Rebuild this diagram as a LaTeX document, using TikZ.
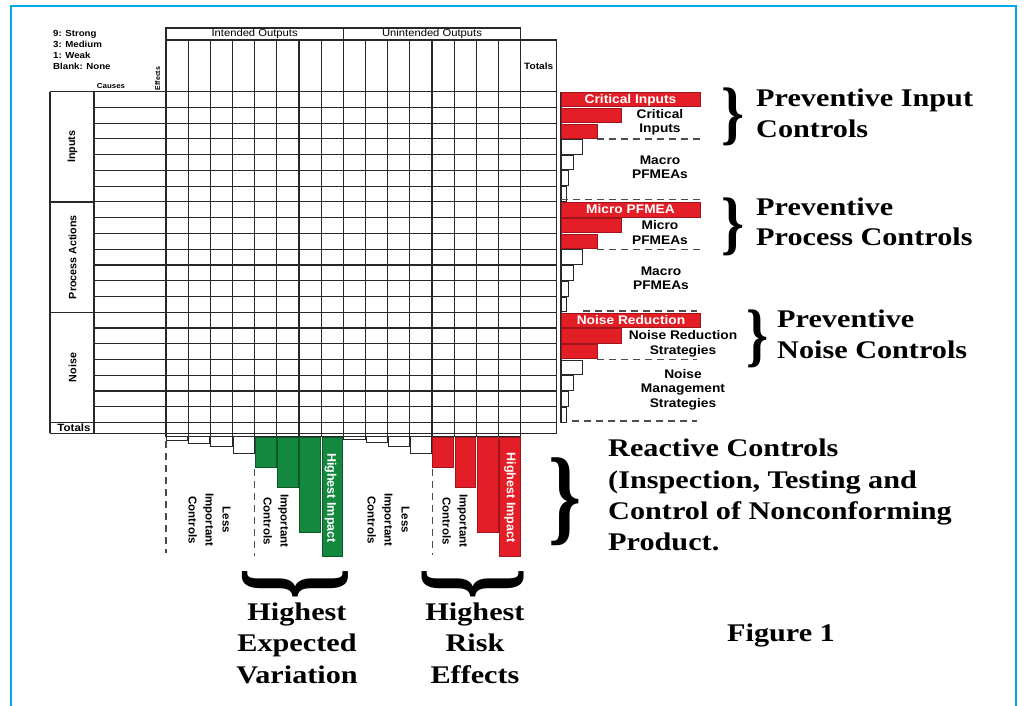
\documentclass[tikz,border=0pt]{standalone}
\usepackage{fontspec}
\usepackage{graphicx}
\setmainfont{Liberation Serif}
\newfontfamily\bigserif{Liberation Serif}[FakeStretch=1.19]
\newfontfamily\bracefont{Liberation Serif}
\newfontfamily\lsans{Liberation Sans}[FakeStretch=1.1]
\newfontfamily\lsansr{Liberation Sans}
\definecolor{framecyan}{RGB}{0,172,228}
\definecolor{barred}{RGB}{228,30,38}
\definecolor{bargreen}{RGB}{20,136,62}
\definecolor{gridcol}{RGB}{40,40,40}
\begin{document}
\begin{tikzpicture}[x=1pt,y=-1pt,
  gridline/.style={draw=gridcol, line width=1.1pt},
  outerline/.style={draw=gridcol, line width=1.3pt},
  redbar/.style={fill=barred, draw=barred!70!black, line width=0.7pt},
  greenbar/.style={fill=bargreen, draw=bargreen!65!black, line width=0.7pt},
  whitebar/.style={fill=white, draw=gridcol, line width=0.9pt},
  dashln/.style={draw=black!70, line width=1.1pt, dash pattern=on 7pt off 5pt},
  legendtxt/.style={font=\lsans\bfseries\fontsize{8.8}{11}\selectfont, inner sep=0, anchor=base west},
  headtxt/.style={font=\lsans\fontsize{10.2}{12}\selectfont, inner sep=0},
  tinytxt/.style={font=\lsans\bfseries\fontsize{7.2}{9}\selectfont, inner sep=0},
  cattxt/.style={font=\lsansr\bfseries\fontsize{10.7}{13}\selectfont, inner sep=0, rotate=90},
  bartxt/.style={font=\lsans\bfseries\fontsize{12.5}{14.5}\selectfont, inner sep=0, align=center},
  whitetxt/.style={bartxt, text=white, anchor=base},
  vtxt/.style={font=\lsansr\bfseries\fontsize{11.5}{17}\selectfont, inner sep=0, align=center, rotate=-90},
  bigtxt/.style={font=\bigserif\bfseries\fontsize{25.4}{31}\selectfont, inner sep=0},
  bracenode/.style={inner sep=0, font=\bracefont\bfseries}
]
\useasboundingbox (0,0) rectangle (1026,706);
% frame
\draw[framecyan, line width=2.6pt] (11,720) -- (11,6) -- (1016,6) -- (1016,720);

% legend
\node[legendtxt] (lg9) at (53,36.7) {9: Strong};
\node[legendtxt] (lg3) at (53,47.5) {3: Medium};
\node[legendtxt] (lg1) at (53,58.4) {1: Weak};
\node[legendtxt] (lgb) at (53,69.3) {Blank: None};

% header
\draw[gridline] (166,28) rectangle (520.7,40);
\draw[gridline] (343.3,28) -- (343.3,40);
\draw[gridline] (520.7,40) rectangle (556.7,91.7);
\node[headtxt] (io) at (254.6,34.3) {Intended Outputs};
\node[headtxt] (uo) at (432,34.3) {Unintended Outputs};
\node[tinytxt, font=\lsans\bfseries\fontsize{9.2}{11}\selectfont] (toth) at (538.7,66.5) {Totals};
\node[tinytxt] (causes) at (111,86) {Causes};
\node[tinytxt, font=\lsansr\bfseries\fontsize{7}{9}\selectfont, rotate=90] (effects) at (157.5,78.5) {Effects};

% grid columns
\foreach \i in {0,...,16}
  \draw[gridline] ({166+\i*22.17},40) -- ({166+\i*22.17},436.7);
% grid rows
\foreach \j in {0,...,21}
  \draw[gridline] (94,{91.7+\j*15.75}) -- (556.7,{91.7+\j*15.75});
\foreach \j in {0,7,14,21}
  \draw[outerline] (50,{91.7+\j*15.75}) -- (94,{91.7+\j*15.75});
\draw[outerline] (50,433.3) -- (556.7,433.3);
\draw[outerline] (50,91.7) -- (50,433.3);
\draw[gridline] (94,91.7) -- (94,433.3);
\draw[gridline] (556.7,40) -- (556.7,433.3);
\draw[gridline] (520.7,91.7) -- (520.7,433.3);

% category labels
\node[cattxt] (inp) at (72.5,146.9) {Inputs};
\node[cattxt] (pa) at (72.5,257.2) {Process Actions};
\node[cattxt] (noi) at (72.5,367.5) {Noise};
\node[tinytxt, font=\lsans\bfseries\fontsize{10.5}{12}\selectfont] (totb) at (74,428.2) {Totals};

% right bars
\draw[gridline] (561,91.7) -- (561,422.5);
\foreach \s in {0,7,14}{
  \foreach \k/\e in {0/700,1/621,2/597}
    \draw[redbar] (561,{91.7+(\s+\k)*15.75+0.7}) rectangle (\e,{91.7+(\s+\k+1)*15.75-0.7});
  \foreach \k/\e in {3/582,4/573,5/568,6/566}
    \draw[whitebar] (561,{91.7+(\s+\k)*15.75+0.5}) rectangle (\e,{91.7+(\s+\k+1)*15.75-0.5});
}
\draw[dashln] (597,139) -- (700,139);
\draw[dashln] (561,199.7) -- (700,199.7);
\draw[dashln] (597,249.3) -- (700,249.3);
\draw[dashln] (583,311) -- (697,311);
\draw[dashln] (597,359.4) -- (697,359.4);
\draw[dashln] (572,421) -- (697,421);

\node[whitetxt] (ci) at (630.5,104) {Critical Inputs};
\node[whitetxt] (mp) at (630.5,213.6) {Micro PFMEA};
\node[whitetxt] (nr) at (631,324.2) {Noise Reduction};
\node[bartxt] (ci2) at (660,122.3) {Critical\\Inputs};
\node[bartxt] (mac1) at (660,167.5) {Macro\\PFMEAs};
\node[bartxt] (mic2) at (660,232.5) {Micro\\PFMEAs};
\node[bartxt] (mac2) at (661,278.5) {Macro\\PFMEAs};
\node[bartxt] (nrs) at (683,344) {Noise Reduction\\Strategies};
\node[bartxt] (nms) at (683,389.5) {Noise\\Management\\Strategies};

% bottom bars
\draw[gridline] (166,436.7) -- (520.7,436.7);
\foreach \i/\b in {0/440,1/443.3,2/446.7,3/453.3,8/439.6,9/442.6,10/446.7,11/453.3}
  \draw[whitebar] ({166+\i*22.17+0.5},436.7) rectangle ({166+(\i+1)*22.17-0.5},\b);
\foreach \i/\b in {4/467.7,5/487.7,6/532,7/556.7}
  \draw[greenbar] ({166+\i*22.17+0.7},437.2) rectangle ({166+(\i+1)*22.17-0.7},\b);
\foreach \i/\b in {12/467.3,13/487.7,14/532.3,15/556.7}
  \draw[redbar] ({166+\i*22.17+0.7},437.2) rectangle ({166+(\i+1)*22.17-0.7},\b);
\draw[dashln] (166,441) -- (166,553);
\draw[dashln] (254.3,469) -- (254.3,556);
\draw[dashln] (432.3,469) -- (432.3,555);

\node[vtxt] (lic1) at (209.5,520) {Less\\Important\\Controls};
\node[vtxt] (ic1) at (276,521) {Important\\Controls};
\node[vtxt, text=white, font=\lsansr\bfseries\fontsize{12.5}{15}\selectfont] (hi1) at (330.5,498) {Highest Impact};
\node[vtxt] (lic2) at (388.5,520) {Less\\Important\\Controls};
\node[vtxt] (ic2) at (455,521) {Important\\Controls};
\node[vtxt, text=white, font=\lsansr\bfseries\fontsize{12.5}{15}\selectfont] (hi2) at (510,497.5) {Highest Impact};

% braces
\node[bracenode] (br1) at (733,116.5) {\resizebox*{23pt}{58pt}{\}}};
\node[bracenode] (br2) at (733,226.5) {\resizebox*{23pt}{58pt}{\}}};
\node[bracenode] (br3) at (757.5,338.5) {\resizebox*{22pt}{58pt}{\}}};
\node[bracenode] (br4) at (565,501.5) {\resizebox*{33pt}{88pt}{\}}};
\node[bracenode, rotate=-90] (br5) at (295,584) {\resizebox*{31pt}{106pt}{\}}};
\node[bracenode, rotate=-90] (br6) at (473,584) {\resizebox*{31pt}{102pt}{\}}};

% big texts
\node[bigtxt, anchor=base west] (pi1) at (756,106.7) {Preventive Input};
\node[bigtxt, anchor=base west] (pi2) at (756,137.3) {Controls};
\node[bigtxt, anchor=base west] (pp1) at (756,215) {Preventive};
\node[bigtxt, anchor=base west] (pp2) at (756,245.7) {Process Controls};
\node[bigtxt, anchor=base west] (pn1) at (777,327) {Preventive};
\node[bigtxt, anchor=base west] (pn2) at (777,358) {Noise Controls};
\node[bigtxt, anchor=base west] (rc1) at (608,456.7) {Reactive Controls};
\node[bigtxt, anchor=base west] (rc2) at (608,488) {(Inspection, Testing and};
\node[bigtxt, anchor=base west] (rc3) at (608,519.5) {Control of Nonconforming};
\node[bigtxt, anchor=base west] (rc4) at (608,550) {Product.};
\node[bigtxt, anchor=base] (fig) at (781,641.7) {Figure 1};
\node[bigtxt, anchor=base] (hev1) at (297,620) {Highest};
\node[bigtxt, anchor=base] (hev2) at (297,651.5) {Expected};
\node[bigtxt, anchor=base] (hev3) at (297,683) {Variation};
\node[bigtxt, anchor=base] (hre1) at (475,620) {Highest};
\node[bigtxt, anchor=base] (hre2) at (475,651.5) {Risk};
\node[bigtxt, anchor=base] (hre3) at (475,683) {Effects};
\end{tikzpicture}
\end{document}
